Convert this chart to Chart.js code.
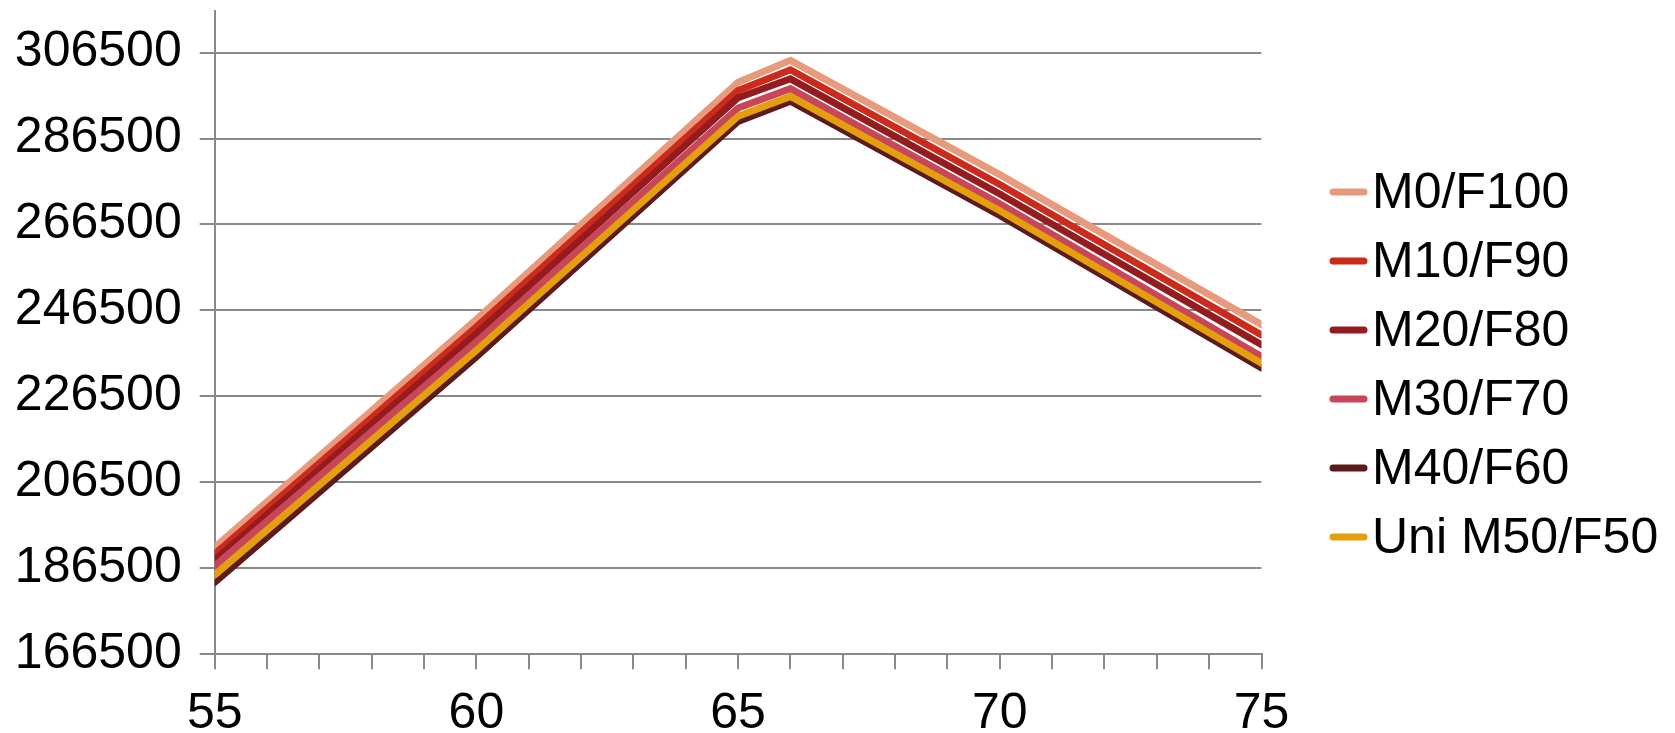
<!DOCTYPE html>
<html lang="en">
    <head>
        <meta charset="UTF-8">
        <title>M/F chart</title>
        <script src="https://cdn.jsdelivr.net/npm/chart.js"></script>
        <style>
            body { margin: 0; background: #fff; }
            #wrap { width: 1675px; height: 733px; position: relative; }
        </style>
    </head>
    <body>
        <div id="wrap">
            <canvas id="mfChart"></canvas>
        </div>

    <script>
        // values
        const ages = [55, 60, 65, 66, 70, 75];
        const seriesNames = ['M0/F100', 'M10/F90', 'M20/F80', 'M30/F70', 'M40/F60', 'Uni M50/F50'];
        const m0f100  = [191400, 244400, 299600, 304700, 278100, 243200];
        const m10f90  = [189800, 242650, 297700, 302500, 275800, 240800];
        const m20f80  = [188400, 241100, 296000, 300400, 273600, 238500];
        const m30f70  = [187000, 239200, 293600, 298100, 271300, 235800];
        const m40f60  = [183200, 235700, 290500, 295200, 268600, 233100];
        const uni5050 = [184900, 237200, 291700, 296300, 269700, 234200];
        const yTicks = [166500, 186500, 206500, 226500, 246500, 266500, 286500, 306500];

        const colors = ['#e89a7c', '#cc2a1a', '#951c1e', '#c8465a', '#5c1a1a', '#e3a00a'];
        const allSeries = [m0f100, m10f90, m20f80, m30f70, m40f60, uni5050];

        const gridGray = '#8a8a8a';
        const fontFamily = '"Liberation Sans", Arial, sans-serif';
        const fontSize = 50;

        const datasets = allSeries.map((vals, i) => ({
            label: seriesNames[i],
            data: vals.map((v, k) => ({ x: ages[k], y: v })),
            borderColor: colors[i],
            backgroundColor: colors[i],
            borderWidth: 7,
            borderCapStyle: 'round',
            borderJoinStyle: 'miter',
            pointRadius: 0,
            tension: 0,
            order: allSeries.length - i   // later series painted on top, like the original
        }));

        // legend on the right, line sample + text
        const sideLegend = {
            id: 'sideLegend',
            afterDraw(chart) {
                const c = chart.ctx;
                const x0 = chart.chartArea.right + 71.5;
                c.save();
                c.font = fontSize + 'px ' + fontFamily;
                c.textBaseline = 'middle';
                c.fillStyle = '#000';
                seriesNames.forEach((name, i) => {
                    const y = 192 + i * 69;
                    c.strokeStyle = colors[i];
                    c.lineWidth = 7;
                    c.lineCap = 'round';
                    c.beginPath();
                    c.moveTo(x0, y);
                    c.lineTo(x0 + 31, y);
                    c.stroke();
                    c.fillText(name, x0 + 39, y + 2);
                });
                c.restore();
            }
        };

        const ctx = document.getElementById('mfChart').getContext('2d');
        const mfChart = new Chart(ctx, {
            type: 'line',
            data: { datasets: datasets },
            plugins: [sideLegend],
            options: {
                responsive: true,
                maintainAspectRatio: false,
                animation: false,
                layout: {
                    padding: { left: 0, right: 413.5, top: 10.5, bottom: 0 }
                },
                plugins: {
                    legend: { display: false },
                    tooltip: { enabled: false }
                },
                scales: {
                    x: {
                        type: 'linear',
                        min: 55,
                        max: 75,
                        afterFit: s => {
                            s.height = 78.8;
                            s.paddingLeft = 0;
                            s.paddingRight = 0;
                        },
                        grid: {
                            drawOnChartArea: false,
                            color: gridGray,
                            lineWidth: 2,
                            tickLength: 15
                        },
                        border: { color: gridGray, width: 2 },
                        ticks: {
                            stepSize: 1,
                            autoSkip: false,
                            maxRotation: 0,
                            padding: 20,
                            color: '#000',
                            font: { family: fontFamily, size: fontSize, lineHeight: 1 },
                            callback: v => (v % 5 === 0 ? String(v) : '')
                        }
                    },
                    y: {
                        min: 166500,
                        max: 316300,
                        afterBuildTicks: scale => {
                            scale.ticks = yTicks.map(v => ({ value: v }));
                        },
                        afterFit: s => {
                            s.width = 214.7;
                            s.paddingTop = 0;
                            s.paddingBottom = 0;
                        },
                        grid: {
                            color: gridGray,
                            lineWidth: 2,
                            tickLength: 15
                        },
                        border: { color: gridGray, width: 2 },
                        ticks: {
                            padding: 18,
                            color: '#000',
                            font: { family: fontFamily, size: fontSize },
                            callback: v => String(v)
                        }
                    }
                }
            }
        });
    </script>
    </body>
</html>
